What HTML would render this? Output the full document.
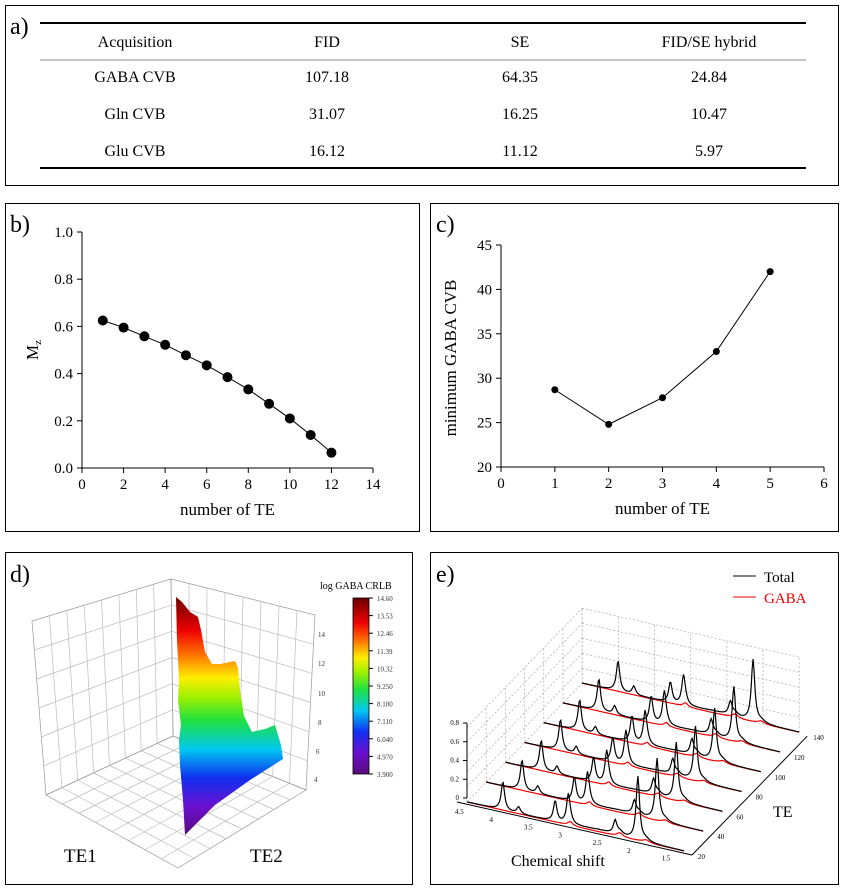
<!DOCTYPE html>
<html><head><meta charset="utf-8">
<style>
body{margin:0;background:#fff;font-family:"Liberation Serif","Times New Roman",serif;}
#root{position:relative;width:845px;height:891px;overflow:hidden;}
svg, svg text{font-family:"Liberation Serif","Times New Roman",serif;}
</style></head><body>
<div id="root">
<svg width="845" height="891" viewBox="0 0 845 891" font-family="Liberation Serif, Times New Roman, serif">
<defs>
<linearGradient id="rainbow" x1="0" y1="1" x2="0" y2="0">
<stop offset="0" stop-color="#5a0a7a"/><stop offset="0.12" stop-color="#6a10d0"/><stop offset="0.24" stop-color="#1030f0"/><stop offset="0.36" stop-color="#00c8f0"/><stop offset="0.48" stop-color="#20e040"/><stop offset="0.58" stop-color="#a0f000"/><stop offset="0.66" stop-color="#ffee00"/><stop offset="0.76" stop-color="#ff7000"/><stop offset="0.86" stop-color="#ee0000"/><stop offset="1" stop-color="#6a0000"/>
</linearGradient>
</defs>
<rect x="5.5" y="5.5" width="833" height="180" fill="none" stroke="#000"/>
<rect x="5.5" y="203.5" width="414" height="328" fill="none" stroke="#000"/>
<rect x="430.5" y="203.5" width="408" height="328" fill="none" stroke="#000"/>
<rect x="5.5" y="552.5" width="407" height="332" fill="none" stroke="#000"/>
<rect x="430.5" y="552.5" width="408" height="332" fill="none" stroke="#000"/>
<text x="10" y="34" font-size="24">a)</text>
<text x="10" y="232" font-size="24">b)</text>
<text x="436" y="232" font-size="24">c)</text>
<text x="10" y="582" font-size="24">d)</text>
<text x="436" y="582" font-size="24">e)</text>

<g font-size="16" text-anchor="middle">
<line x1="40" y1="23" x2="806" y2="23" stroke="#000" stroke-width="2"/>
<line x1="40" y1="60" x2="806" y2="60" stroke="#888" stroke-width="1"/>
<line x1="40" y1="168" x2="806" y2="168" stroke="#000" stroke-width="2"/>
<text x="135" y="47">Acquisition</text><text x="327" y="47">FID</text><text x="520" y="47">SE</text><text x="709" y="47">FID/SE hybrid</text>
<text x="135" y="82">GABA CVB</text><text x="327" y="82">107.18</text><text x="520" y="82">64.35</text><text x="709" y="82">24.84</text>
<text x="135" y="119">Gln CVB</text><text x="327" y="119">31.07</text><text x="520" y="119">16.25</text><text x="709" y="119">10.47</text>
<text x="135" y="156">Glu CVB</text><text x="327" y="156">16.12</text><text x="520" y="156">11.12</text><text x="709" y="156">5.97</text>
</g>

<g id="chartB"></g>
<g id="chartC"></g>

<g stroke="#bbb" stroke-width="0.7" fill="none">
<polygon points="32,621 171,579 173,736 46,795" stroke="#999"/>
<polygon points="171,579 315,615 306,790 173,736" stroke="#999"/>
<polygon points="46,795 173,736 306,790 178,868" stroke="#999"/>
<g id="gridD"></g>
</g>
<polygon fill="url(#rainbow)" points="176,597 182,602 190,612 198,617 201,630 205,652 212,664 220,664 235,661 238,668 240,690 244,716 252,732 265,729 275,725 281,745 283,759 250,780 215,805 185,835 183,800 180,765 179,740 181,725 178,700 179,680 177,640"/>
<g font-size="7" fill="#333">
<text x="318" y="637">14</text><text x="318" y="666">12</text><text x="318" y="696">10</text><text x="318" y="725">8</text><text x="316" y="754">6</text><text x="314" y="782">4</text>
</g>
<text x="64" y="862" font-size="19">TE1</text>
<text x="250" y="862" font-size="19">TE2</text>
<text x="320" y="589" font-size="10">log GABA CRLB</text>
<rect x="353" y="598" width="16" height="176" fill="url(#rainbow)" stroke="#000" stroke-width="0.8"/>
<g id="cbTicks" font-size="7" fill="#333"></g>

<g id="chartE"></g>
<g>
<line x1="733" y1="576" x2="756" y2="576" stroke="#000"/>
<text x="764" y="582" font-size="15">Total</text>
<line x1="733" y1="597" x2="756" y2="597" stroke="#e00"/>
<text x="764" y="603" font-size="15" fill="#e00">GABA</text>
</g>
<text x="511" y="866" font-size="16">Chemical shift</text>
<text x="773" y="817" font-size="16">TE</text>
</svg>
</div>
<script>
const NS="http://www.w3.org/2000/svg";
function mk(p,t,a){const e=document.createElementNS(NS,t);for(const k in a)e.setAttribute(k,a[k]);p.appendChild(e);return e;}

const bTE=[1,2,3,4,5,6,7,8,9,10,11,12];
const bMz=[0.625,0.595,0.558,0.522,0.478,0.435,0.385,0.333,0.272,0.21,0.14,0.065];
const bXTicks=[0,2,4,6,8,10,12,14];
const bYTicks=["0.0","0.2","0.4","0.6","0.8","1.0"];
const cTE=[1,2,3,4,5];
const cCVB=[28.7,24.8,27.8,33,42];
const cXTicks=[0,1,2,3,4,5,6];
const cYTicks=[20,25,30,35,40,45];
const cbLabels=["14.60","13.53","12.46","11.39","10.32","9.250","8.180","7.110","6.040","4.970","3.900"];
const eTE=[20,40,60,80,100,120,140];
const ePeakPpm=[3.98,3.75,3.22,3.03,2.35,2.02];
const eHeights=[
 [0.30,0.07,0.22,0.30,0.14,0.68],
 [0.32,0.08,0.26,0.32,0.14,0.66],
 [0.32,0.08,0.26,0.34,0.16,0.62],
 [0.33,0.08,0.26,0.34,0.16,0.58],
 [0.33,0.08,0.28,0.34,0.16,0.56],
 [0.34,0.09,0.28,0.34,0.16,0.58],
 [0.32,0.09,0.22,0.30,0.14,0.66]];
const eGaba=[0.04,0.04,0.04,0.04,0.04,0.04,0.04];

function axes2d(g,x0,x1,y0,y1,xmin,xmax,ymin,ymax,xt,yt,xs,ys,ylab,xlab,lx,ly){
 const X=v=>x0+(v-xmin)/(xmax-xmin)*(x1-x0), Y=v=>y0-(v-ymin)/(ymax-ymin)*(y0-y1);
 let e=mk(g,'line',{x1:x0,y1:y0,x2:x1,y2:y0,stroke:'#000'});
 e=mk(g,'line',{x1:x0,y1:y0,x2:x0,y2:y1,stroke:'#000'});
 xt.forEach(v=>{mk(g,'line',{x1:X(v),y1:y0,x2:X(v),y2:y0+5,stroke:'#000'});const t=mk(g,'text',{x:X(v),y:y0+21,'font-size':15,'text-anchor':'middle'});t.textContent=v;});
 yt.forEach(v=>{const n=+v;mk(g,'line',{x1:x0-5,y1:Y(n),x2:x0,y2:Y(n),stroke:'#000'});const t=mk(g,'text',{x:x0-9,y:Y(n)+5,'font-size':15,'text-anchor':'end'});t.textContent=v;});
 let t=mk(g,'text',{x:(x0+x1)/2,y:y0+47,'font-size':17,'text-anchor':'middle'});t.textContent=xlab;
 t=mk(g,'text',{x:lx,y:ly,'font-size':17,'text-anchor':'middle',transform:`rotate(-90 ${lx} ${ly})`});t.innerHTML=ylab;
 let pts=xs.map((v,i)=>X(v)+','+Y(ys[i])).join(' ');
 e=mk(g,'polyline',{points:pts,fill:'none',stroke:'#000','stroke-width':1});
 return {X,Y};
}
const gb=document.getElementById('chartB');
let ab=axes2d(gb,82,373,468,232,0,14,0,1,bXTicks,bYTicks,bTE,bMz,'M<tspan font-size="11" dy="3">z</tspan>','number of TE',38,350);
bTE.forEach((v,i)=>{const c=mk(gb,'circle',{cx:ab.X(v),cy:ab.Y(bMz[i]),r:5,fill:'#000'});});
const gc=document.getElementById('chartC');
let ac=axes2d(gc,501,824,467,245,0,6,20,45,cXTicks,cYTicks,cTE,cCVB,'minimum GABA CVB','number of TE',456,358);
cTE.forEach((v,i)=>{const c=mk(gc,'circle',{cx:ac.X(v),cy:ac.Y(cCVB[i]),r:3.5,fill:'#000'});});

const gd=document.getElementById('gridD');
for(let i=1;i<8;i++){const f=i/8;
 mk(gd,'line',{x1:32+(171-32)*f,y1:621+(579-621)*f,x2:46+(173-46)*f,y2:795+(736-795)*f});
 mk(gd,'line',{x1:171+(315-171)*f,y1:579+(615-579)*f,x2:173+(306-173)*f,y2:736+(790-736)*f});
 mk(gd,'line',{x1:46+(173-46)*f,y1:795+(736-795)*f,x2:178+(306-178)*f,y2:868+(790-868)*f});
 mk(gd,'line',{x1:173+(306-173)*f,y1:736+(790-736)*f,x2:46+(178-46)*f,y2:795+(868-795)*f});}
for(let i=1;i<6;i++){const f=i/6;
 mk(gd,'line',{x1:32+(46-32)*f,y1:621+(795-621)*f,x2:171+(173-171)*f,y2:579+(736-579)*f});
 mk(gd,'line',{x1:171+(173-171)*f,y1:579+(736-579)*f,x2:315+(306-315)*f,y2:615+(790-615)*f});}
const cb=document.getElementById('cbTicks');
cbLabels.forEach((l,i)=>{const y=598+i*17.6;mk(cb,'line',{x1:369,y1:y,x2:373,y2:y,stroke:'#000'});const t=mk(cb,'text',{x:377,y:y+3});t.textContent=l;});

const ge=document.getElementById('chartE');
const b0={x:467,y:802},b1={x:684,y:851},step={x:19.2,y:-19.8},hPer=75/0.8;
const pp=v=>(4.5-v)/3.15;
const wallG=mk(ge,'g',{stroke:'#aaa','stroke-dasharray':'2,2','stroke-width':0.7,fill:'none'});
const bk0={x:b0.x+6*step.x,y:b0.y+6*step.y},bk1={x:b1.x+6*step.x,y:b1.y+6*step.y};
for(let k=0;k<=5;k++){const h=k*0.16*hPer;
 mk(wallG,'line',{x1:b0.x,y1:b0.y-h,x2:bk0.x,y2:bk0.y-h});
 mk(wallG,'line',{x1:bk0.x,y1:bk0.y-h,x2:bk1.x,y2:bk1.y-h});}
for(let i=0;i<=6;i++){const f=i/6;const x=bk0.x+(bk1.x-bk0.x)*f,y=bk0.y+(bk1.y-bk0.y)*f;mk(wallG,'line',{x1:x,y1:y,x2:x,y2:y-0.8*hPer});
 const xa=b0.x+step.x*i,ya=b0.y+step.y*i;mk(wallG,'line',{x1:xa,y1:ya,x2:xa,y2:ya-0.8*hPer});}
mk(ge,'line',{x1:b0.x,y1:b0.y-4,x2:b0.x,y2:b0.y-4-0.8*hPer,stroke:'#000'});
["0","0.2","0.4","0.6","0.8"].forEach((l,i)=>{const y=b0.y-4-i*0.2*hPer;mk(ge,'line',{x1:b0.x-4,y1:y,x2:b0.x,y2:y,stroke:'#000'});const t=mk(ge,'text',{x:b0.x-8,y:y+2,'font-size':7,'text-anchor':'end'});t.textContent=l;});
mk(ge,'line',{x1:b0.x-10,y1:b0.y,x2:b1.x+8,y2:b1.y+4,stroke:'#000'});
mk(ge,'line',{x1:b1.x+8,y1:b1.y+4,x2:bk1.x+8,y2:bk1.y+4,stroke:'#000'});
[4.5,4,3.5,3,2.5,2,1.5].forEach(v=>{const f=pp(v);const t=mk(ge,'text',{x:b0.x-12+(b1.x-b0.x)*f,y:b0.y+12+(b1.y-b0.y)*f,'font-size':7});t.textContent=v;});
eTE.forEach((v,i)=>{const t=mk(ge,'text',{x:b1.x+14+step.x*i,y:b1.y+8+step.y*i,'font-size':7});t.textContent=v;});
for(let i=eTE.length-1;i>=0;i--){
 const ox=b0.x+step.x*i,oy=b0.y+step.y*i;
 let pT=[],pG=[];
 for(let s=0;s<=240;s++){const f=s/240,ppm=4.5-f*3.15;let y=0;
  ePeakPpm.forEach((c,k)=>{y+=eHeights[i][k]/(1+((ppm-c)/0.03)**2);});
  let g=eGaba[i]/(1+((ppm-3.0)/0.04)**2)+eGaba[i]/(1+((ppm-2.28)/0.05)**2)+eGaba[i]*0.7/(1+((ppm-1.9)/0.06)**2);
  y+=g+0.02*Math.max(0,1-Math.abs(ppm-2.6)/0.6);
  const x=ox+(b1.x-b0.x)*f,yb=oy+(b1.y-b0.y)*f;
  pT.push(x.toFixed(1)+','+(yb-y*hPer).toFixed(1));pG.push(x.toFixed(1)+','+(yb-g*hPer).toFixed(1));}
 let e=mk(ge,'polyline',{points:pG.join(' '),fill:'none',stroke:'#e00','stroke-width':1.2});
 
 e=mk(ge,'polyline',{points:pT.join(' '),fill:'none',stroke:'#000','stroke-width':1.2});
 
}
</script>
</body></html>
